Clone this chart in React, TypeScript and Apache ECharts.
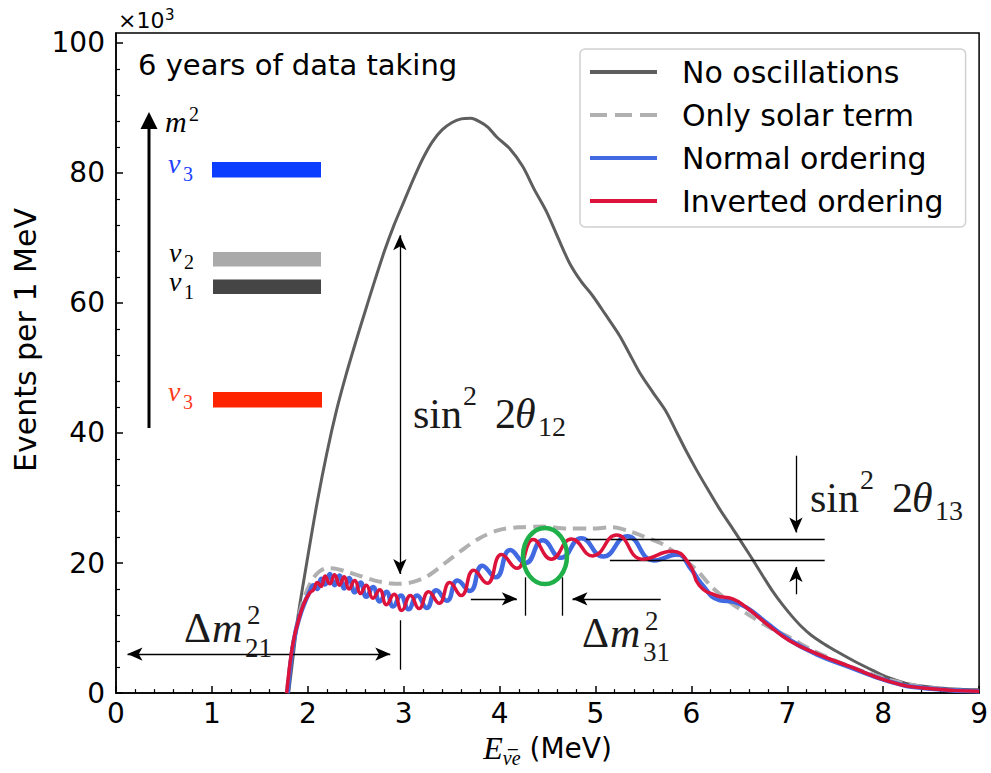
import React, { useEffect, useRef } from "react";
import * as echarts from "echarts";

// ---------- data (E in MeV, events per MeV in units of 10^3) ----------
const noOscillations: [number, number][] = [
  [1.8, 0], [1.85, 6], [1.9, 12], [2.0, 21], [2.1, 29.5], [2.2, 37], [2.3, 43.5], [2.4, 49],
  [2.5, 54], [2.6, 58.8], [2.7, 63.5], [2.8, 68], [2.9, 72], [3.0, 75.5], [3.1, 79], [3.2, 82.2],
  [3.3, 84.8], [3.4, 86.6], [3.5, 87.7], [3.6, 88.3], [3.7, 88.4], [3.8, 87.8], [3.88, 87],
  [3.97, 85.5], [4.1, 83.8], [4.24, 81], [4.36, 77.5], [4.49, 74], [4.61, 70], [4.73, 66.1],
  [4.85, 63.3], [4.97, 61.1], [5.1, 58.3], [5.25, 55], [5.35, 52.3], [5.46, 49.3], [5.6, 46.2],
  [5.74, 43.2], [5.85, 40], [5.95, 37.1], [6.05, 34.4], [6.16, 31.6], [6.29, 28.4], [6.43, 25.3],
  [6.54, 22.8], [6.64, 20.5], [6.75, 17.9], [6.85, 15.6], [6.95, 13.6], [7.05, 11.8], [7.15, 10.2],
  [7.25, 8.9], [7.38, 7.6], [7.54, 6.2], [7.7, 4.9], [7.89, 3.5], [8.05, 2.4], [8.24, 1.5],
  [8.4, 1.1], [8.58, 0.8], [8.8, 0.6], [9, 0.5],
];

const onlySolarTerm: [number, number][] = [
  [1.78, 0], [1.83, 6], [1.9, 11.5], [1.97, 15], [2.05, 17.5], [2.12, 18.7], [2.2, 19.2],
  [2.3, 19.1], [2.42, 18.6], [2.55, 18], [2.7, 17.3], [2.85, 16.9], [2.96, 16.8], [3.1, 17.1],
  [3.25, 18], [3.45, 20.2], [3.6, 21.9], [3.8, 23.9], [4.0, 25.1], [4.2, 25.5], [4.45, 25.6],
  [4.7, 25.3], [4.95, 25.3], [5.18, 25.5], [5.35, 24.9], [5.5, 24.1], [5.7, 22.9], [5.88, 21],
  [6.05, 19], [6.22, 16.2], [6.4, 14], [6.57, 12.3], [6.8, 10.2], [7.02, 8.6], [7.26, 6.6],
  [7.5, 5], [7.8, 3.3], [8.1, 1.9], [8.4, 1], [8.7, 0.5], [9, 0.3],
];

const normalOrdering: [number, number][] = [
  [1.79, 0], [1.82, 4.5], [1.86, 8.5], [1.91, 11.5], [1.97, 14], [2.02, 15.6], [2.06, 16.6],
  [2.1, 16.0], [2.14, 17.6], [2.18, 16.7], [2.23, 18.3], [2.28, 16.6], [2.33, 18.1], [2.38, 16.1],
  [2.43, 17.7], [2.49, 15.5], [2.55, 17.0], [2.61, 14.8], [2.68, 16.3], [2.75, 14.1], [2.82, 15.6],
  [2.89, 13.3], [2.97, 15.0], [3.05, 12.9], [3.14, 15.0], [3.24, 13.1], [3.34, 15.8], [3.45, 14.2],
  [3.56, 17.3], [3.69, 15.7], [3.82, 19.6], [3.96, 17.8], [4.11, 22.0], [4.27, 20.0], [4.45, 23.5],
  [4.64, 20.8], [4.85, 23.8], [5.08, 21.0], [5.33, 24.1], [5.61, 20.4], [5.85, 21.3], [6.0, 19.0],
  [6.1, 16.9], [6.29, 14.3], [6.45, 14.0], [6.6, 12.9], [6.8, 10.6], [7.02, 8.2], [7.3, 6.0],
  [7.65, 4.0], [8.06, 1.8], [8.41, 0.8], [9.0, 0.3],
];

const invertedOrdering: [number, number][] = [
  [1.78, 0], [1.81, 4], [1.85, 8], [1.9, 11], [1.96, 13.8], [2.02, 15.4], [2.06, 15.9],
  [2.1, 17.0], [2.14, 16.4], [2.18, 18.0], [2.23, 16.8], [2.28, 18.2], [2.33, 16.6], [2.38, 17.9],
  [2.43, 16.0], [2.49, 17.3], [2.55, 15.3], [2.61, 16.6], [2.68, 14.6], [2.75, 15.9], [2.82, 13.6],
  [2.9, 15.2], [2.98, 12.7], [3.07, 15.0], [3.16, 13.0], [3.26, 15.6], [3.37, 13.8], [3.48, 17.0],
  [3.6, 15.0], [3.73, 18.9], [3.87, 16.9], [4.02, 21.3], [4.18, 19.2], [4.35, 23.6], [4.54, 20.6],
  [4.75, 23.7], [4.97, 21.1], [5.22, 24.3], [5.49, 20.6], [5.8, 21.8], [5.98, 19.8], [6.08, 16.6],
  [6.26, 15.0], [6.43, 14.5], [6.57, 13.2], [6.78, 10.7], [7.02, 8.1], [7.3, 6.1], [7.65, 4.1],
  [8.06, 1.8], [8.41, 0.8], [9.0, 0.3],
];

const seriesNames = ["No oscillations", "Only solar term", "Normal ordering", "Inverted ordering"];
const yMajorTicks = [0, 20, 40, 60, 80, 100];
const yMinorTicks = [4, 8, 12, 16, 24, 28, 32, 36, 44, 48, 52, 56, 64, 68, 72, 76, 84, 88, 92, 96];

// annotation arrows / lines in data coordinates: [x1, y1, x2, y2, arrowAtStart, arrowAtEnd]
const annotationLines: [number, number, number, number, boolean, boolean][] = [
  [2.96, 18.3, 2.96, 70.4, true, true],   // sin^2 2θ12
  [0.12, 6.0, 2.86, 6.0, true, true],     // Δm^2_21
  [2.96, 3.6, 2.96, 11.2, false, false],
  [3.7, 14.5, 4.18, 14.5, false, true],   // Δm^2_31
  [5.68, 14.5, 4.76, 14.5, false, true],
  [4.27, 11.9, 4.27, 17.8, false, false],
  [4.65, 11.9, 4.65, 17.8, false, false],
  [4.9, 23.6, 7.39, 23.6, false, false],  // sin^2 2θ13
  [5.15, 20.5, 7.39, 20.5, false, false],
  [7.09, 36.5, 7.09, 24.7, false, true],
  [7.09, 15.2, 7.09, 19.4, false, true],
];

const SERIF = "'Liberation Serif', 'DejaVu Serif', serif";
const SANS = "'DejaVu Sans', 'Liberation Sans', sans-serif";
const DASH_ICON = "path://M0,0h17v4h-17zM25,0h17v4h-17zM50,0h17v4h-17z";

function t(x: number, baseline: number, text: string, size: number, opts: any = {}) {
  const fontFamily = opts.family || SERIF;
  return {
    type: "text",
    x,
    y: baseline - 0.34 * size,
    z: 100,
    silent: true,
    style: {
      text,
      fontSize: size,
      fontFamily,
      fontStyle: opts.italic ? "italic" : "normal",
      fill: opts.color || "#1a1a1a",
      align: "left",
      verticalAlign: "middle",
      textAlign: "left",
      textVerticalAlign: "middle",
    },
  };
}

export default function App() {
  const ref = useRef<HTMLDivElement>(null);

  useEffect(() => {
    if (!ref.current) return;
    const chart = echarts.init(ref.current, null, { renderer: "svg" });

    const markData = annotationLines.map(([x1, y1, x2, y2, s, e]) => [
      { coord: [x1, y1], symbol: s ? "arrow" : "none", symbolSize: [10, 15] },
      { coord: [x2, y2], symbol: e ? "arrow" : "none", symbolSize: [10, 15] },
    ]);

    const graphic: any[] = [
      // mass ordering inset
      { type: "line", z: 100, silent: true, shape: { x1: 149, y1: 428, x2: 149, y2: 126 }, style: { stroke: "#000", lineWidth: 3 } },
      { type: "polygon", z: 100, silent: true, shape: { points: [[149, 112], [140.5, 129], [157.5, 129]] }, style: { fill: "#000" } },
      t(165, 132, "m", 30, { italic: true, color: "#000" }),
      t(189, 121, "2", 20, { color: "#000" }),
      { type: "rect", z: 100, silent: true, shape: { x: 212, y: 162, width: 109, height: 15.5 }, style: { fill: "#0a3dff" } },
      { type: "rect", z: 100, silent: true, shape: { x: 213, y: 252, width: 108, height: 14.5 }, style: { fill: "#aaaaaa" } },
      { type: "rect", z: 100, silent: true, shape: { x: 213, y: 279.5, width: 108, height: 14.5 }, style: { fill: "#454545" } },
      { type: "rect", z: 100, silent: true, shape: { x: 213, y: 392, width: 109, height: 15.5 }, style: { fill: "#ff2400" } },
      t(168, 173, "ν", 28, { italic: true, color: "#2040ff" }),
      t(183, 181, "3", 20, { color: "#2040ff" }),
      t(169, 262, "ν", 28, { italic: true, color: "#000" }),
      t(184, 269, "2", 20, { color: "#000" }),
      t(169, 291, "ν", 28, { italic: true, color: "#000" }),
      t(184, 299, "1", 20, { color: "#000" }),
      t(168, 401, "ν", 28, { italic: true, color: "#ff3a1a" }),
      t(183, 409, "3", 20, { color: "#ff3a1a" }),
      // header texts
      t(138, 75, "6 years of data taking", 29, { family: SANS, color: "#000" }),
      t(118, 28, "×10", 22, { family: SANS, color: "#000" }),
      t(165, 20, "3", 15, { family: SANS, color: "#000" }),
      // sin^2 2θ12
      t(413, 428, "sin", 42),
      t(463, 405, "2", 28),
      t(495, 428, "2", 42),
      t(515, 428, "θ", 42, { italic: true }),
      t(538, 436, "12", 28),
      // sin^2 2θ13
      t(810, 512, "sin", 42),
      t(860, 489, "2", 28),
      t(892, 512, "2", 42),
      t(912, 512, "θ", 42, { italic: true }),
      t(935, 520, "13", 28),
      // Δm^2_21
      t(184, 642, "Δ", 42),
      t(212, 642, "m", 42, { italic: true }),
      t(247, 624, "2", 27),
      t(245, 657, "21", 27),
      // Δm^2_31
      t(582, 647, "Δ", 42),
      t(610, 647, "m", 42, { italic: true }),
      t(645, 630, "2", 27),
      t(643, 661, "31", 27),
      // green ellipse
      { type: "ellipse", z: 101, silent: true, shape: { cx: 545, cy: 556, rx: 22, ry: 28 }, style: { fill: "none", stroke: "#1fb04a", lineWidth: 4.5 } },
    ];

    const option: any = {
      animation: false,
      backgroundColor: "#ffffff",
      grid: { left: 116, right: 10, top: 33, bottom: 73, show: true, borderColor: "#000", borderWidth: 1.5, backgroundColor: "transparent" },
      legend: {
        orient: "vertical",
        left: 580,
        top: 49,
        data: [
          { name: seriesNames[0], icon: "rect" },
          { name: seriesNames[1], icon: DASH_ICON },
          { name: seriesNames[2], icon: "rect" },
          { name: seriesNames[3], icon: "rect" },
        ],
        selectedMode: false,
        padding: [8, 22, 11, 10],
        itemGap: 13,
        itemWidth: 67,
        itemHeight: 4,
        backgroundColor: "#ffffff",
        borderColor: "#d0d0d0",
        borderWidth: 1.5,
        borderRadius: 5,
        textStyle: { fontFamily: SANS, fontSize: 30, color: "#000", lineHeight: 30, padding: [0, 0, 0, 20] },
      },
      xAxis: {
        type: "value",
        min: 0,
        max: 9,
        interval: 1,
        name: "{i|E}{s|\u03bd\u0305e}{r| (MeV)}",
        nameLocation: "middle",
        nameGap: 26,
        nameTextStyle: {
          rich: {
            i: { fontFamily: SERIF, fontStyle: "italic", fontSize: 32, color: "#000", lineHeight: 40 },
            s: { fontFamily: SERIF, fontStyle: "italic", fontSize: 20, color: "#000", verticalAlign: "bottom", lineHeight: 30 },
            r: { fontFamily: SANS, fontSize: 28, color: "#000", lineHeight: 40 },
          },
        },
        axisLine: { show: true, onZero: false, lineStyle: { color: "#000", width: 1.5 } },
        axisTick: { show: true, inside: true, length: 7, lineStyle: { color: "#000", width: 1.5 } },
        minorTick: { show: true, splitNumber: 5, length: 4, lineStyle: { color: "#000", width: 1.2 } },
        axisLabel: { color: "#000", fontSize: 28, fontFamily: SANS, margin: 6 },
        splitLine: { show: false },
      },
      yAxis: [
        {
          type: "value",
          min: 0,
          max: 101.5,
          interval: 20,
          name: "Events per 1 MeV",
          nameLocation: "middle",
          nameGap: 76,
          nameRotate: 90,
          nameTextStyle: { fontFamily: SANS, fontSize: 30, color: "#000", padding: [0, 0, 0, 46] },
          axisLine: { show: true, onZero: false, lineStyle: { color: "#000", width: 1.5 } },
          axisTick: { show: true, inside: true, length: 7, customValues: yMajorTicks, lineStyle: { color: "#000", width: 1.5 } },
          axisLabel: { color: "#000", fontSize: 28, fontFamily: SANS, margin: 11, customValues: yMajorTicks },
          splitLine: { show: false },
        },
        {
          type: "value",
          min: 0,
          max: 101.5,
          position: "left",
          axisLine: { show: false },
          axisTick: { show: true, inside: true, length: 4, customValues: yMinorTicks, lineStyle: { color: "#000", width: 1.2 } },
          axisLabel: { show: false },
          splitLine: { show: false },
        },
      ],
      series: [
        {
          name: seriesNames[0],
          type: "line",
          data: noOscillations,
          showSymbol: false,
          symbol: "none",
          smooth: 0.3,
          lineStyle: { color: "#5e5e5e", width: 3 },
          itemStyle: { color: "#5e5e5e" },
          z: 2,
        },
        {
          name: seriesNames[1],
          type: "line",
          data: onlySolarTerm,
          showSymbol: false,
          symbol: "none",
          smooth: 0.3,
          lineStyle: { color: "#b0b0b0", width: 4, type: [13, 7] },
          itemStyle: { color: "#b0b0b0" },
          z: 3,
        },
        {
          name: seriesNames[2],
          type: "line",
          data: normalOrdering,
          showSymbol: false,
          symbol: "none",
          smooth: 0.5,
          lineStyle: { color: "#4169e1", width: 4.5 },
          itemStyle: { color: "#4169e1" },
          z: 4,
        },
        {
          name: seriesNames[3],
          type: "line",
          data: invertedOrdering,
          showSymbol: false,
          symbol: "none",
          smooth: 0.5,
          lineStyle: { color: "#dc143c", width: 3.5 },
          itemStyle: { color: "#dc143c" },
          z: 5,
        },
        {
          name: "annotations",
          type: "line",
          data: [],
          symbol: "none",
          z: 6,
          markLine: {
            silent: true,
            animation: false,
            symbol: ["none", "none"],
            label: { show: false },
            emphasis: { disabled: true },
            lineStyle: { color: "#000", width: 1.3, type: "solid", opacity: 1 },
            data: markData,
          },
        },
      ],
      graphic,
    };

    chart.setOption(option);
    return () => chart.dispose();
  }, []);

  return (
    <div
      ref={ref}
      style={{ position: "fixed", left: 0, top: 0, width: 991, height: 773, background: "#fff" }}
    />
  );
}
